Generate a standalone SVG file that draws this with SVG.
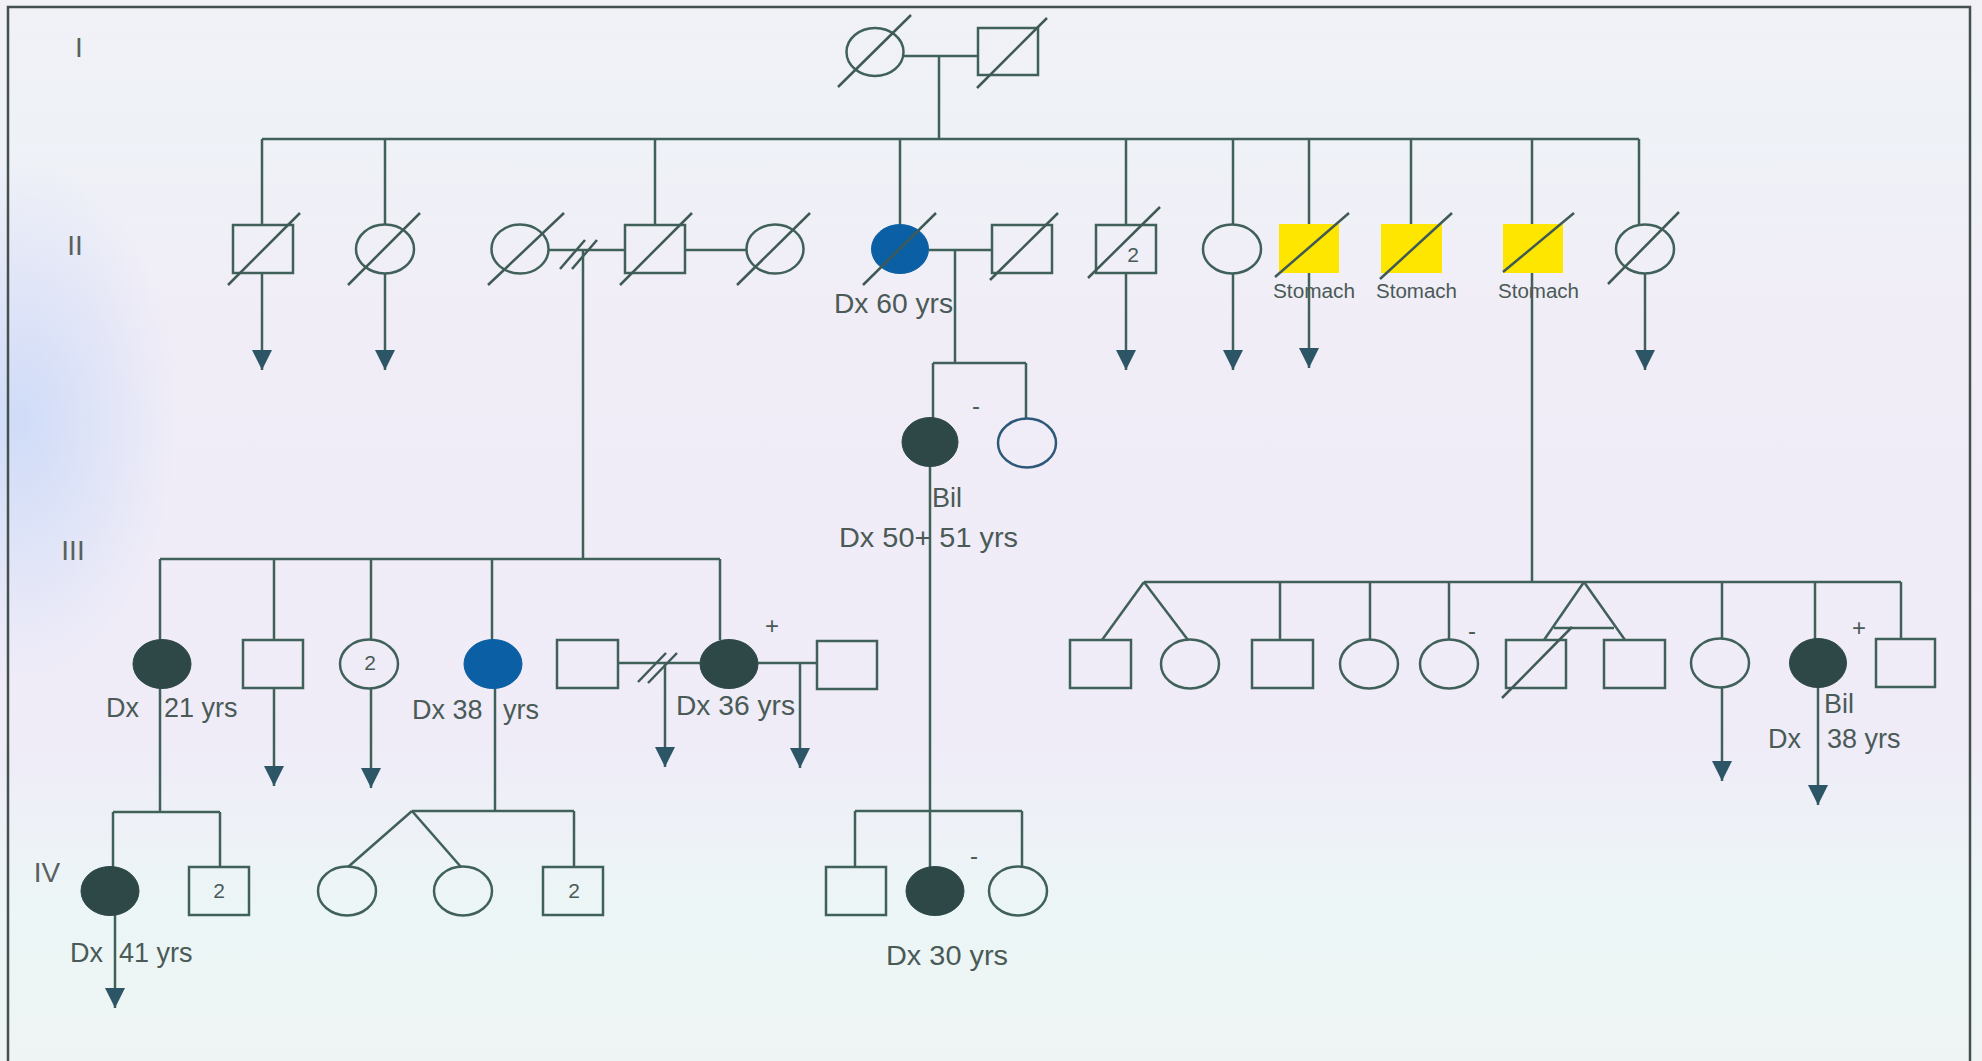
<svg xmlns="http://www.w3.org/2000/svg" width="1982" height="1061" viewBox="0 0 1982 1061">
<defs>
<linearGradient id="bg" x1="0" y1="0" x2="0" y2="1">
<stop offset="0" stop-color="#f1f1f6"/>
<stop offset="0.12" stop-color="#eef2f7"/>
<stop offset="0.3" stop-color="#f1edf7"/>
<stop offset="0.7" stop-color="#efecf8"/>
<stop offset="0.86" stop-color="#ecf6f6"/>
<stop offset="1" stop-color="#eef4f3"/>
</linearGradient>
<radialGradient id="lt" cx="0.5" cy="0.5" r="0.5">
<stop offset="0" stop-color="#c4d6f8" stop-opacity="0.75"/>
<stop offset="1" stop-color="#c4d6f8" stop-opacity="0"/>
</radialGradient>
<marker id="arr" viewBox="0 0 20 20" refX="20" refY="10" markerWidth="20" markerHeight="21" markerUnits="userSpaceOnUse" orient="auto">
<path d="M0,0 L20,10 L0,20 z" fill="#2c5566"/>
</marker>
<style>
.ln{stroke:#40605a;stroke-width:2.5;fill:none}
.ar{stroke:#40605a;stroke-width:2.5;fill:none;marker-end:url(#arr)}
.sh{stroke:#40605a;stroke-width:2.5;fill:none}
.sl{stroke:#3f5a55;stroke-width:2.5}
.dk{fill:#2e4847;stroke:#2e4847;stroke-width:1}
.bl{fill:#0b5fa5;stroke:#0b5fa5;stroke-width:1}
.bo{stroke:#2e5878;stroke-width:2.5;fill:none}
.ye{fill:#ffe600;stroke:none}
.t{font-family:"Liberation Sans",Arial,sans-serif;font-size:27px;fill:#4a5a56}
.st{font-size:20px}
.n{font-size:21px;text-anchor:middle}
.g{font-family:"Liberation Sans",Arial,sans-serif;font-size:28px;fill:#5a5f60}
.pm{font-family:"Liberation Sans",Arial,sans-serif;font-size:24px;fill:#4a5a56;text-anchor:middle}
</style>
</defs>
<rect x="0" y="0" width="1982" height="1061" fill="url(#bg)"/>
<ellipse cx="20" cy="420" rx="160" ry="260" fill="url(#lt)"/>
<path d="M8,1061 V7 H1970 V1061" fill="none" stroke="#45504e" stroke-width="2.5"/>

<g id="generation-labels">
<text class="g" x="79" y="57" text-anchor="middle">I</text>
<text class="g" x="75" y="255" text-anchor="middle">II</text>
<text class="g" x="73" y="560" text-anchor="middle">III</text>
<text class="g" x="47" y="882" text-anchor="middle">IV</text>
</g>

<g id="connectors">
<line class="ln" x1="903" y1="56" x2="978" y2="56"/>
<line class="ln" x1="939" y1="56" x2="939" y2="139"/>
<line class="ln" x1="262" y1="139" x2="1639" y2="139"/>
<line class="ln" x1="262" y1="139" x2="262" y2="225"/>
<line class="ln" x1="385" y1="139" x2="385" y2="224"/>
<line class="ln" x1="655" y1="139" x2="655" y2="225"/>
<line class="ln" x1="900" y1="139" x2="900" y2="224"/>
<line class="ln" x1="1126" y1="139" x2="1126" y2="225"/>
<line class="ln" x1="1233" y1="139" x2="1233" y2="224"/>
<line class="ln" x1="1309" y1="139" x2="1309" y2="225"/>
<line class="ln" x1="1411" y1="139" x2="1411" y2="225"/>
<line class="ln" x1="1532" y1="139" x2="1532" y2="225"/>
<line class="ln" x1="1639" y1="139" x2="1639" y2="225"/>
<line class="ar" x1="262" y1="273" x2="262" y2="370"/>
<line class="ar" x1="385" y1="273" x2="385" y2="370"/>
<line class="ar" x1="1126" y1="273" x2="1126" y2="370"/>
<line class="ar" x1="1233" y1="273" x2="1233" y2="370"/>
<line class="ar" x1="1309" y1="273" x2="1309" y2="368"/>
<line class="ar" x1="1645" y1="273" x2="1645" y2="370"/>
<line class="ln" x1="549" y1="250" x2="625" y2="250"/>
<line class="sl" x1="560" y1="269" x2="585" y2="240"/>
<line class="sl" x1="572" y1="269" x2="597" y2="240"/>
<line class="ln" x1="583" y1="250" x2="583" y2="559"/>
<line class="ln" x1="685" y1="250" x2="746" y2="250"/>
<line class="ln" x1="929" y1="250" x2="992" y2="250"/>
<line class="ln" x1="955" y1="250" x2="955" y2="363"/>
<line class="ln" x1="933" y1="363" x2="1026" y2="363"/>
<line class="ln" x1="933" y1="363" x2="933" y2="418"/>
<line class="ln" x1="1026" y1="363" x2="1026" y2="419"/>
<line class="ln" x1="930" y1="467" x2="930" y2="867"/>
<line class="ln" x1="1532" y1="273" x2="1532" y2="582"/>
<line class="ln" x1="160" y1="559" x2="720" y2="559"/>
<line class="ln" x1="160" y1="559" x2="160" y2="640"/>
<line class="ln" x1="274" y1="559" x2="274" y2="640"/>
<line class="ln" x1="371" y1="559" x2="371" y2="640"/>
<line class="ln" x1="492" y1="559" x2="492" y2="640"/>
<line class="ln" x1="720" y1="559" x2="720" y2="640"/>
<line class="ar" x1="274" y1="688" x2="274" y2="786"/>
<line class="ar" x1="371" y1="688" x2="371" y2="788"/>
<line class="ln" x1="160" y1="688" x2="160" y2="812"/>
<line class="ln" x1="495" y1="688" x2="495" y2="811"/>
<line class="ln" x1="618" y1="663" x2="700" y2="663"/>
<line class="sl" x1="638" y1="682" x2="666" y2="653"/>
<line class="sl" x1="648" y1="683" x2="677" y2="653"/>
<line class="ar" x1="665" y1="663" x2="665" y2="767"/>
<line class="ln" x1="758" y1="663" x2="817" y2="663"/>
<line class="ar" x1="800" y1="663" x2="800" y2="768"/>
<line class="ln" x1="1144" y1="582" x2="1901" y2="582"/>
<line class="ln" x1="1144" y1="582" x2="1102" y2="640"/>
<line class="ln" x1="1144" y1="582" x2="1188" y2="640"/>
<line class="ln" x1="1280" y1="582" x2="1280" y2="640"/>
<line class="ln" x1="1370" y1="582" x2="1370" y2="640"/>
<line class="ln" x1="1449" y1="582" x2="1449" y2="640"/>
<line class="ln" x1="1584" y1="582" x2="1544" y2="640"/>
<line class="ln" x1="1584" y1="582" x2="1625" y2="640"/>
<line class="ln" x1="1554" y1="628" x2="1614" y2="628"/>
<line class="ln" x1="1722" y1="582" x2="1722" y2="639"/>
<line class="ln" x1="1815" y1="582" x2="1815" y2="639"/>
<line class="ln" x1="1901" y1="582" x2="1901" y2="639"/>
<line class="ar" x1="1722" y1="687" x2="1722" y2="781"/>
<line class="ar" x1="1818" y1="687" x2="1818" y2="805"/>
<line class="ln" x1="113" y1="812" x2="220" y2="812"/>
<line class="ln" x1="113" y1="812" x2="113" y2="867"/>
<line class="ln" x1="220" y1="812" x2="220" y2="867"/>
<line class="ar" x1="115" y1="915" x2="115" y2="1008"/>
<line class="ln" x1="412" y1="811" x2="574" y2="811"/>
<line class="ln" x1="412" y1="811" x2="348" y2="867"/>
<line class="ln" x1="412" y1="811" x2="461" y2="867"/>
<line class="ln" x1="574" y1="811" x2="574" y2="867"/>
<line class="ln" x1="855" y1="811" x2="1022" y2="811"/>
<line class="ln" x1="855" y1="811" x2="855" y2="867"/>
<line class="ln" x1="1022" y1="811" x2="1022" y2="867"/>
</g>

<g id="I-1"><ellipse class="sh" cx="875" cy="52" rx="28.5" ry="24"/><line class="sl" x1="838" y1="87" x2="911" y2="15"/></g>
<g id="I-2"><rect class="sh" x="978" y="28" width="60" height="47"/><line class="sl" x1="977" y1="88" x2="1047" y2="18"/></g>

<g id="II-1"><rect class="sh" x="233" y="225" width="60" height="48"/><line class="sl" x1="228" y1="285" x2="300" y2="213"/></g>
<g id="II-2"><ellipse class="sh" cx="385" cy="249" rx="29" ry="24.5"/><line class="sl" x1="348" y1="285" x2="420" y2="213"/></g>
<g id="II-3"><ellipse class="sh" cx="520" cy="249" rx="28.5" ry="24.5"/><line class="sl" x1="488" y1="285" x2="564" y2="213"/></g>
<g id="II-4"><rect class="sh" x="625" y="225" width="60" height="48"/><line class="sl" x1="620" y1="285" x2="692" y2="213"/></g>
<g id="II-5"><ellipse class="sh" cx="775" cy="249" rx="28.5" ry="24.5"/><line class="sl" x1="737" y1="285" x2="810" y2="213"/></g>
<g id="II-6"><ellipse class="bl" cx="900" cy="249" rx="28.5" ry="24.5"/><line class="sl" x1="863" y1="285" x2="936" y2="213"/>
<text class="t" x="834" y="313" textLength="119" lengthAdjust="spacingAndGlyphs">Dx 60 yrs</text></g>
<g id="II-7"><rect class="sh" x="992" y="225" width="60" height="48"/><line class="sl" x1="990" y1="280" x2="1058" y2="213"/></g>
<g id="II-8"><rect class="sh" x="1096" y="225" width="60" height="48"/><line class="sl" x1="1088" y1="278" x2="1160" y2="207"/><text class="t n" x="1133" y="262">2</text></g>
<g id="II-9"><ellipse class="sh" cx="1232" cy="249" rx="29" ry="24.5"/></g>
<g id="II-10"><rect class="ye" x="1279" y="224" width="60" height="49"/><line class="sl" x1="1275" y1="277" x2="1349" y2="213"/>
<text class="t st" x="1273" y="298" textLength="82" lengthAdjust="spacingAndGlyphs">Stomach</text></g>
<g id="II-11"><rect class="ye" x="1381" y="224" width="61" height="49"/><line class="sl" x1="1380" y1="279" x2="1452" y2="213"/>
<text class="t st" x="1376" y="298" textLength="81" lengthAdjust="spacingAndGlyphs">Stomach</text></g>
<g id="II-12"><rect class="ye" x="1503" y="224" width="60" height="49"/><line class="sl" x1="1503" y1="272" x2="1574" y2="213"/>
<text class="t st" x="1498" y="298" textLength="81" lengthAdjust="spacingAndGlyphs">Stomach</text></g>
<g id="II-13"><ellipse class="sh" cx="1645" cy="249" rx="29" ry="24.5"/><line class="sl" x1="1608" y1="284" x2="1679" y2="212"/></g>

<g id="III-1"><ellipse class="dk" cx="162" cy="664" rx="29" ry="24.5"/>
<text class="t"><tspan x="106" y="717">Dx</tspan><tspan x="164" y="717">21 yrs</tspan></text></g>
<g id="III-2"><rect class="sh" x="243" y="640" width="60" height="48"/></g>
<g id="III-3"><ellipse class="sh" cx="369" cy="664" rx="29" ry="24.5"/><text class="t n" x="370" y="670">2</text></g>
<g id="III-4"><ellipse class="bl" cx="493" cy="664" rx="29" ry="24.5"/>
<text class="t"><tspan x="412" y="719">Dx 38</tspan><tspan x="503" y="719">yrs</tspan></text></g>
<g id="III-5"><rect class="sh" x="557" y="640" width="61" height="48"/></g>
<g id="III-6"><ellipse class="dk" cx="729" cy="664" rx="29" ry="24.5"/>
<text class="pm" x="772" y="634">+</text>
<text class="t" x="676" y="715" textLength="119" lengthAdjust="spacingAndGlyphs">Dx 36 yrs</text></g>
<g id="III-7"><rect class="sh" x="817" y="641" width="60" height="48"/></g>
<g id="III-8"><ellipse class="dk" cx="930" cy="442" rx="28" ry="24.5"/>
<text class="pm" x="976" y="414">-</text>
<text class="t" x="932" y="507">Bil</text>
<text class="t" x="839" y="547" textLength="179" lengthAdjust="spacingAndGlyphs">Dx 50+ 51 yrs</text></g>
<g id="III-9"><ellipse class="bo" cx="1027" cy="443" rx="29" ry="24.5"/></g>
<g id="III-10"><rect class="sh" x="1070" y="640" width="61" height="48"/></g>
<g id="III-11"><ellipse class="sh" cx="1190" cy="664" rx="29" ry="24.5"/></g>
<g id="III-12"><rect class="sh" x="1252" y="640" width="61" height="48"/></g>
<g id="III-13"><ellipse class="sh" cx="1369" cy="664" rx="29" ry="24.5"/></g>
<g id="III-14"><ellipse class="sh" cx="1449" cy="664" rx="29" ry="24.5"/><text class="pm" x="1472" y="639">-</text></g>
<g id="III-15"><rect class="sh" x="1506" y="640" width="60" height="48"/><line class="sl" x1="1502" y1="698" x2="1572" y2="627"/></g>
<g id="III-16"><rect class="sh" x="1604" y="640" width="61" height="48"/></g>
<g id="III-17"><ellipse class="sh" cx="1720" cy="663" rx="29" ry="24.5"/></g>
<g id="III-18"><ellipse class="dk" cx="1818" cy="663" rx="28.5" ry="24.5"/>
<text class="pm" x="1859" y="636">+</text>
<text class="t" x="1824" y="713">Bil</text>
<text class="t"><tspan x="1768" y="748">Dx</tspan><tspan x="1827" y="748">38 yrs</tspan></text></g>
<g id="III-19"><rect class="sh" x="1876" y="639" width="59" height="48"/></g>

<g id="IV-1"><ellipse class="dk" cx="110" cy="891" rx="29" ry="24.5"/>
<text class="t"><tspan x="70" y="962">Dx</tspan><tspan x="119" y="962">41 yrs</tspan></text></g>
<g id="IV-2"><rect class="sh" x="189" y="867" width="60" height="48"/><text class="t n" x="219" y="898">2</text></g>
<g id="IV-3"><ellipse class="sh" cx="347" cy="891" rx="29" ry="24.5"/></g>
<g id="IV-4"><ellipse class="sh" cx="463" cy="891" rx="29" ry="24.5"/></g>
<g id="IV-5"><rect class="sh" x="543" y="867" width="60" height="48"/><text class="t n" x="574" y="898">2</text></g>
<g id="IV-6"><rect class="sh" x="826" y="867" width="60" height="48"/></g>
<g id="IV-7"><ellipse class="dk" cx="935" cy="891" rx="29" ry="24.5"/>
<text class="pm" x="974" y="864">-</text>
<text class="t" x="886" y="965" textLength="122" lengthAdjust="spacingAndGlyphs">Dx 30 yrs</text></g>
<g id="IV-8"><ellipse class="sh" cx="1018" cy="891" rx="29" ry="24.5"/></g>
</svg>
